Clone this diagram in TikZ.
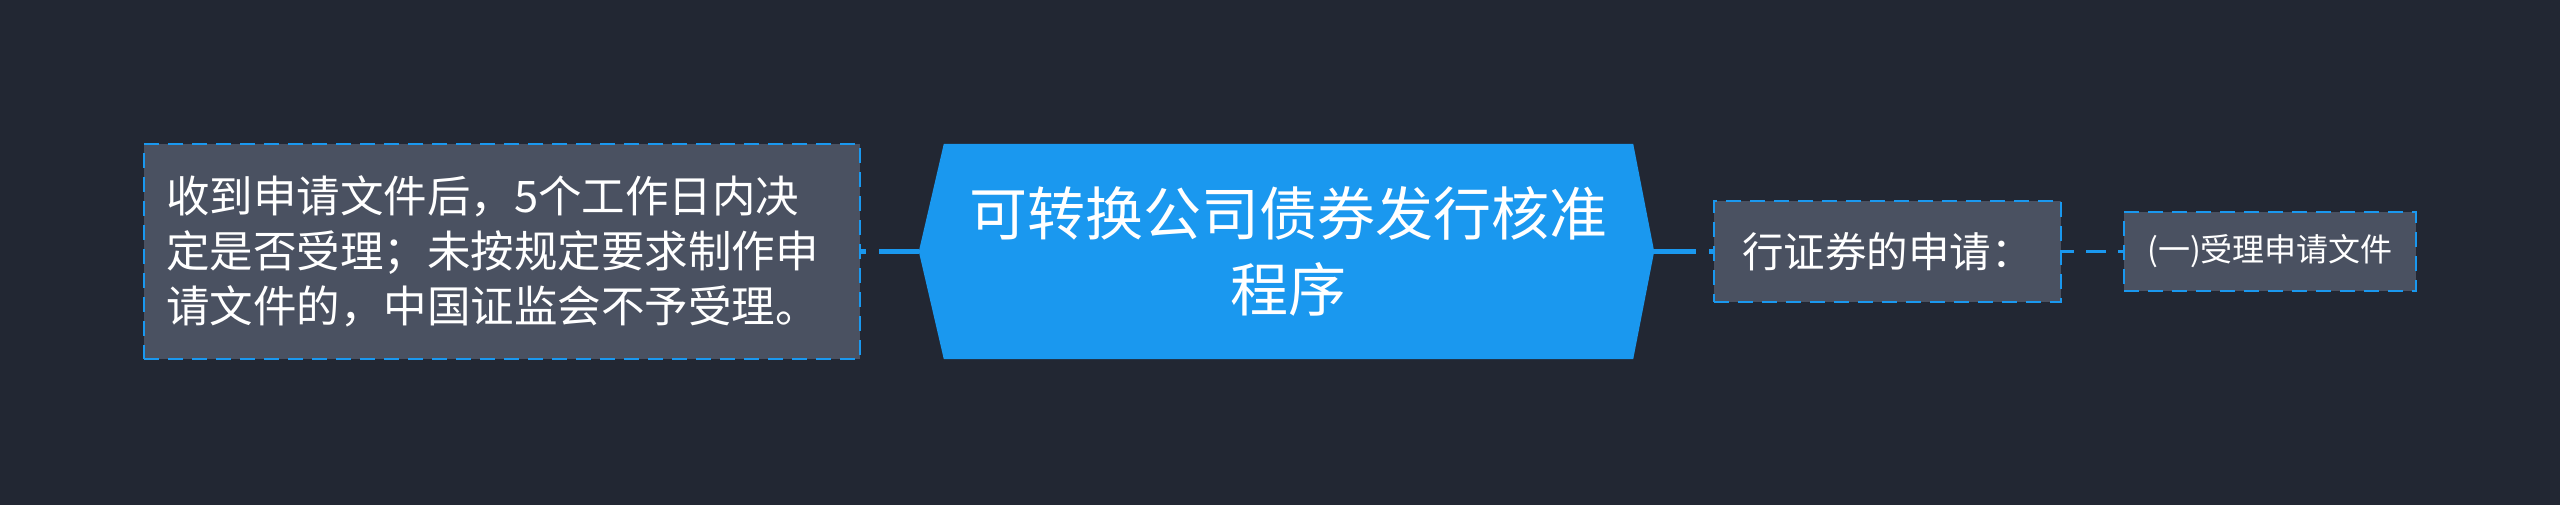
\documentclass[tikz,border=0pt]{standalone}
\usepackage{fontspec}
\setmainfont{Noto Sans CJK SC}
\definecolor{bgc}{HTML}{222733}
\definecolor{boxc}{HTML}{4A5161}
\definecolor{bluec}{HTML}{1A98EF}
\pgfdeclarelayer{bg}
\pgfsetlayers{bg,main}
\tikzset{
  sub/.style={rectangle, fill=boxc, draw=bluec, line width=2.6pt, dash pattern=on 15pt off 9pt, text=white, inner ysep=0pt},
  conn/.style={draw=bluec, line width=5pt},
  thinconn/.style={draw=bluec, line width=2.8pt}
}
\begin{document}
\begin{tikzpicture}[x=1pt,y=-1pt]
\begin{pgfonlayer}{bg}
\fill[bgc] (0,0) rectangle (2560,505);
\end{pgfonlayer}
\useasboundingbox (0,0) rectangle (2560,505);
% central
\node[rectangle, minimum width=689pt, minimum height=215pt, inner sep=0pt, text=white, align=center,
      font=\fontsize{58}{76}\selectfont] (c) at (1288.5,251.5) {可转换公司债券发行核准\\程序};
\begin{pgfonlayer}{bg}
\fill[bluec] (c.north west) -- (c.north east) -- ([xshift=21pt]c.east) -- (c.south east)
  -- (c.south west) -- ([xshift=-25pt]c.west) -- cycle;
\end{pgfonlayer}
\coordinate (cl) at ([xshift=-25pt]c.west);
\coordinate (cr) at ([xshift=21pt]c.east);
% left
\node[sub, text width=672pt, inner xsep=22pt, minimum height=215pt, align=left,
      font=\fontsize{43.5}{55}\selectfont] (L) at (502,251.5)
  {收到申请文件后，5个工作日内决\\定是否受理；未按规定要求制作申\\请文件的，中国证监会不予受理。};
% right level 1
\node[sub, minimum width=347pt, minimum height=101pt, inner xsep=0pt,
      font=\fontsize{41.5}{50}\selectfont] (R1) at (1887.5,251.5) {行证券的申请：};
% right level 2
\node[sub, minimum width=292pt, minimum height=79pt, inner xsep=0pt,
      font=\fontsize{32}{40}\selectfont] (R2) at (2270,251.5) {(一)受理申请文件};
% connectors
\draw[conn, dash pattern=on 40pt off 13pt on 9pt off 100pt] (cl) -- (L.east);
\draw[conn, dash pattern=on 42pt off 13pt on 9pt off 100pt] (cr) -- (R1.west);
\draw[thinconn, dash pattern=on 12pt off 12pt on 20pt off 12pt on 9pt off 100pt] (R1.east) -- (R2.west);
\end{tikzpicture}
\end{document}
